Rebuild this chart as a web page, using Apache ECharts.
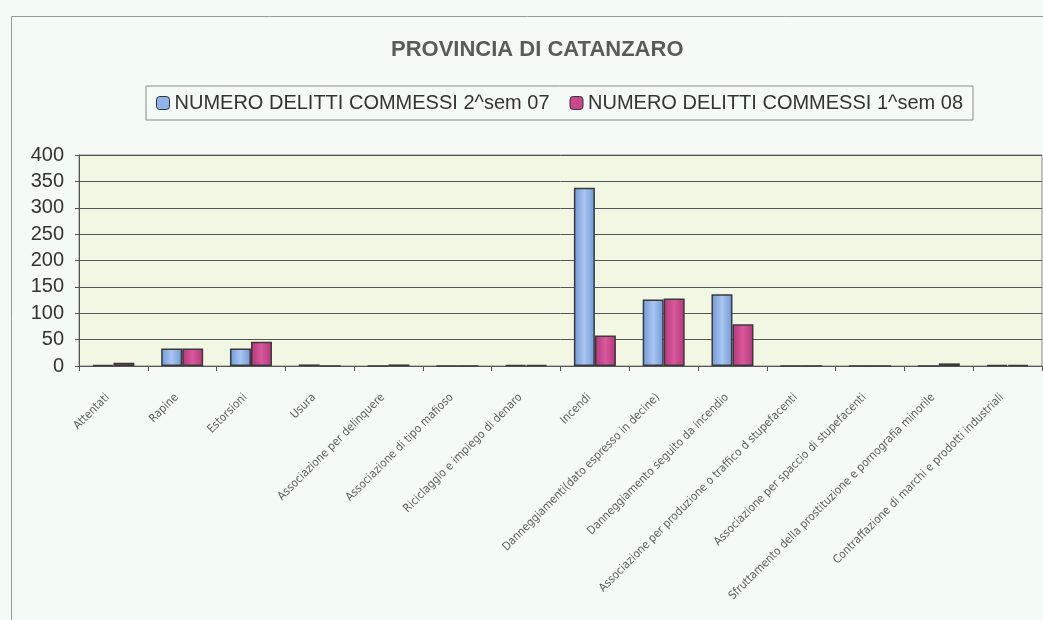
<!DOCTYPE html>
<html>
<head>
<meta charset="utf-8">
<script src="https://cdn.jsdelivr.net/npm/echarts@6/dist/echarts.min.js"></script>
<style>
html,body{margin:0;padding:0;background:#f4faf6;}
#chart{width:1043px;height:620px;}
</style>
</head>
<body>
<div id="chart"></div>
<script>
const categories = [
  "Attentati",
  "Rapine",
  "Estorsioni",
  "Usura",
  "Associazione per delinquere",
  "Associazione di tipo mafioso",
  "Riciclaggio e impiego di denaro",
  "Incendi",
  "Danneggiamenti(dato espresso in decine)",
  "Danneggiamento seguito da incendio",
  "Associazione per produzione o traffico d stupefacenti",
  "Associazione per spaccio di stupefacenti",
  "Sfruttamento della prostituzione e pornografia minorile",
  "Contraffazione di marchi e prodotti industriali"
];
const seriesNames = ["NUMERO DELITTI COMMESSI 2^sem 07", "NUMERO DELITTI COMMESSI 1^sem 08"];
const sem2_07 = [2, 33, 33, 3, 0, 0, 2, 338, 126, 136, 0, 0, 0, 2];
const sem1_08 = [6, 33, 46, 0, 3, 0, 2, 58, 128, 79, 0, 0, 5, 2];
const yTicks = [0, 50, 100, 150, 200, 250, 300, 350, 400];

const chart = echarts.init(document.getElementById('chart'));
const blue = new echarts.graphic.LinearGradient(0,0,1,0,[
  {offset:0,color:'#6e98d8'},{offset:0.5,color:'#a9c6f0'},{offset:1,color:'#6e98d8'}]);
const pink = new echarts.graphic.LinearGradient(0,0,1,0,[
  {offset:0,color:'#b8347c'},{offset:0.5,color:'#d75a9c'},{offset:1,color:'#b8347c'}]);

chart.setOption({
  backgroundColor: '#f4faf6',
  animation: false,
  graphic: [{
    type: 'rect', left: 9, top: 14, z: -1,
    shape: {width: 1100, height: 700},
    style: {fill: 'none', stroke: '#9a9a9a', lineWidth: 1}
  }],
  title: {
    text: 'PROVINCIA DI CATANZARO',
    left: 386, top: 34,
    textStyle: {fontFamily: 'Liberation Sans, Arial, sans-serif', fontSize: 22, fontWeight: 'bold', color: '#5a5a5a'}
  },
  legend: {
    left: 146, top: 86,
    padding: [7, 10],
    borderColor: '#8a8a8a', borderWidth: 1,
    itemWidth: 13, itemHeight: 13, itemGap: 20,
    textStyle: {fontFamily: 'Liberation Sans, Arial, sans-serif', fontSize: 20, color: '#333'},
    data: [
      {name: seriesNames[0], itemStyle: {color: '#8fb3ea', borderColor: '#333', borderWidth: 1}},
      {name: seriesNames[1], itemStyle: {color: '#c9478d', borderColor: '#333', borderWidth: 1}}
    ]
  },
  grid: {
    left: 79, right: 1, top: 155, height: 211,
    show: true, backgroundColor: '#f2f7e4', borderColor: '#8a8a8a', borderWidth: 1
  },
  xAxis: {
    type: 'category',
    data: categories,
    boundaryGap: true,
    axisLine: {lineStyle: {color: '#555', width: 1}},
    axisTick: {show: true, length: 5, alignWithLabel: false, lineStyle: {color: '#555'}},
    axisLabel: {
      interval: 0, rotate: 45, margin: 24, padding: [0, 8, 0, 0],
      fontFamily: 'DejaVu Sans Condensed, Liberation Sans Narrow, sans-serif',
      fontSize: 11.5, color: '#5c5c5c'
    }
  },
  yAxis: {
    type: 'value',
    min: yTicks[0], max: yTicks[yTicks.length-1], interval: 50,
    axisLine: {show: true, lineStyle: {color: '#555'}},
    axisTick: {show: true, length: 4, lineStyle: {color: '#555'}},
    axisLabel: {margin: 15, fontFamily: 'Liberation Sans, Arial, sans-serif', fontSize: 20, color: '#333'},
    splitLine: {lineStyle: {color: '#555', width: 1}}
  },
  series: [
    {
      name: seriesNames[0], type: 'bar', data: sem2_07,
      barWidth: 21, barGap: '0%',
      itemStyle: {color: blue, borderColor: '#3a3a3a', borderWidth: 1.5}
    },
    {
      name: seriesNames[1], type: 'bar', data: sem1_08,
      barWidth: 21, barGap: '0%',
      itemStyle: {color: pink, borderColor: '#3a3a3a', borderWidth: 1.5}
    }
  ]
});
</script>
</body>
</html>
